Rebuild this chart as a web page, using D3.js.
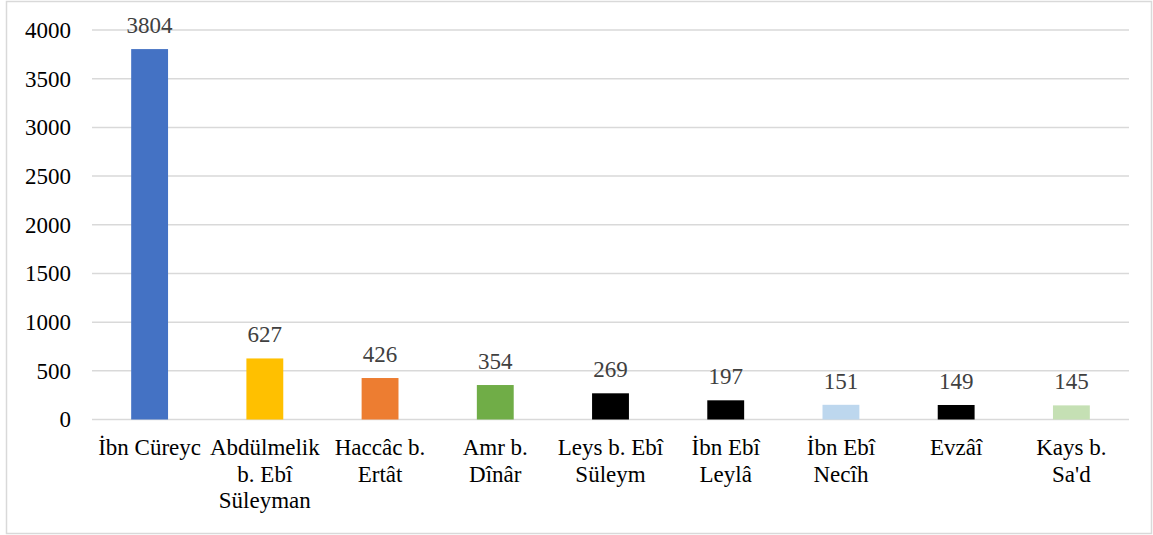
<!DOCTYPE html>
<html>
<head>
<meta charset="utf-8">
<script src="https://cdn.jsdelivr.net/npm/d3@7"></script>
<style>
  body { margin: 0; background: #fff; }
  svg { display: block; }
</style>
</head>
<body>
<div id="chart"></div>
<script>
// categories (line breaks as in the original axis labels)
const categories = ["İbn Cüreyc", "Abdülmelik\nb. Ebî\nSüleyman", "Haccâc b.\nErtât", "Amr b.\nDînâr",
  "Leys b. Ebî\nSüleym", "İbn Ebî\nLeylâ", "İbn Ebî\nNecîh", "Evzâî", "Kays b.\nSa'd"];
const values = [3804, 627, 426, 354, 269, 197, 151, 149, 145];
const barColors = ["#4472C4", "#FFC000", "#ED7D31", "#70AD47", "#000000", "#000000", "#BDD7EE", "#000000", "#C5E0B4"];
const yTicks = [0, 500, 1000, 1500, 2000, 2500, 3000, 3500, 4000];

const width = 1153, height = 535;
const margin = {top: 30, right: 24, bottom: 115.5, left: 92};
const font = "'Liberation Serif', 'Times New Roman', serif";
const fontSize = "23px";

const svg = d3.select("#chart").append("svg")
  .attr("width", width)
  .attr("height", height);

// chart border
svg.append("rect")
  .attr("x", 6.5).attr("y", 1.5)
  .attr("width", width - 8).attr("height", height - 3)
  .attr("fill", "none")
  .attr("stroke", "#d9d9d9")
  .attr("stroke-width", 1.5);

const x = d3.scaleBand()
  .domain(categories)
  .range([margin.left, width - margin.right])
  .paddingInner(0.68)
  .paddingOuter(0.34);

const y = d3.scaleLinear()
  .domain([0, 4000])
  .range([height - margin.bottom, margin.top]);

// gridlines
svg.append("g")
  .selectAll("line")
  .data(yTicks)
  .enter().append("line")
  .attr("x1", margin.left)
  .attr("x2", width - margin.right)
  .attr("y1", d => y(d))
  .attr("y2", d => y(d))
  .attr("stroke", "#d9d9d9")
  .attr("stroke-width", 1.5);

// y tick labels
svg.append("g")
  .selectAll("text")
  .data(yTicks)
  .enter().append("text")
  .attr("x", 71)
  .attr("y", d => y(d))
  .attr("dy", "0.34em")
  .attr("text-anchor", "end")
  .style("font-family", font)
  .style("font-size", fontSize)
  .attr("fill", "#000")
  .text(d => d);

// bars
svg.append("g")
  .selectAll("rect")
  .data(values)
  .enter().append("rect")
  .attr("x", (d, i) => x(categories[i]))
  .attr("width", x.bandwidth())
  .attr("y", d => y(d))
  .attr("height", d => y(0) - y(d))
  .attr("fill", (d, i) => barColors[i]);

// value labels
svg.append("g")
  .selectAll("text")
  .data(values)
  .enter().append("text")
  .attr("x", (d, i) => x(categories[i]) + x.bandwidth() / 2)
  .attr("y", d => y(d) - 16)
  .attr("text-anchor", "middle")
  .style("font-family", font)
  .style("font-size", fontSize)
  .attr("fill", "#404040")
  .text(d => d);

// category labels
const cat = svg.append("g")
  .selectAll("text")
  .data(categories)
  .enter().append("text")
  .attr("x", d => x(d) + x.bandwidth() / 2)
  .attr("y", 455)
  .attr("text-anchor", "middle")
  .style("font-family", font)
  .style("font-size", fontSize)
  .attr("fill", "#000");

cat.each(function(d) {
  const t = d3.select(this);
  d.split("\n").forEach((line, i) => {
    t.append("tspan")
      .attr("x", t.attr("x"))
      .attr("y", 455 + i * 26.5)
      .text(line);
  });
});
</script>
</body>
</html>
